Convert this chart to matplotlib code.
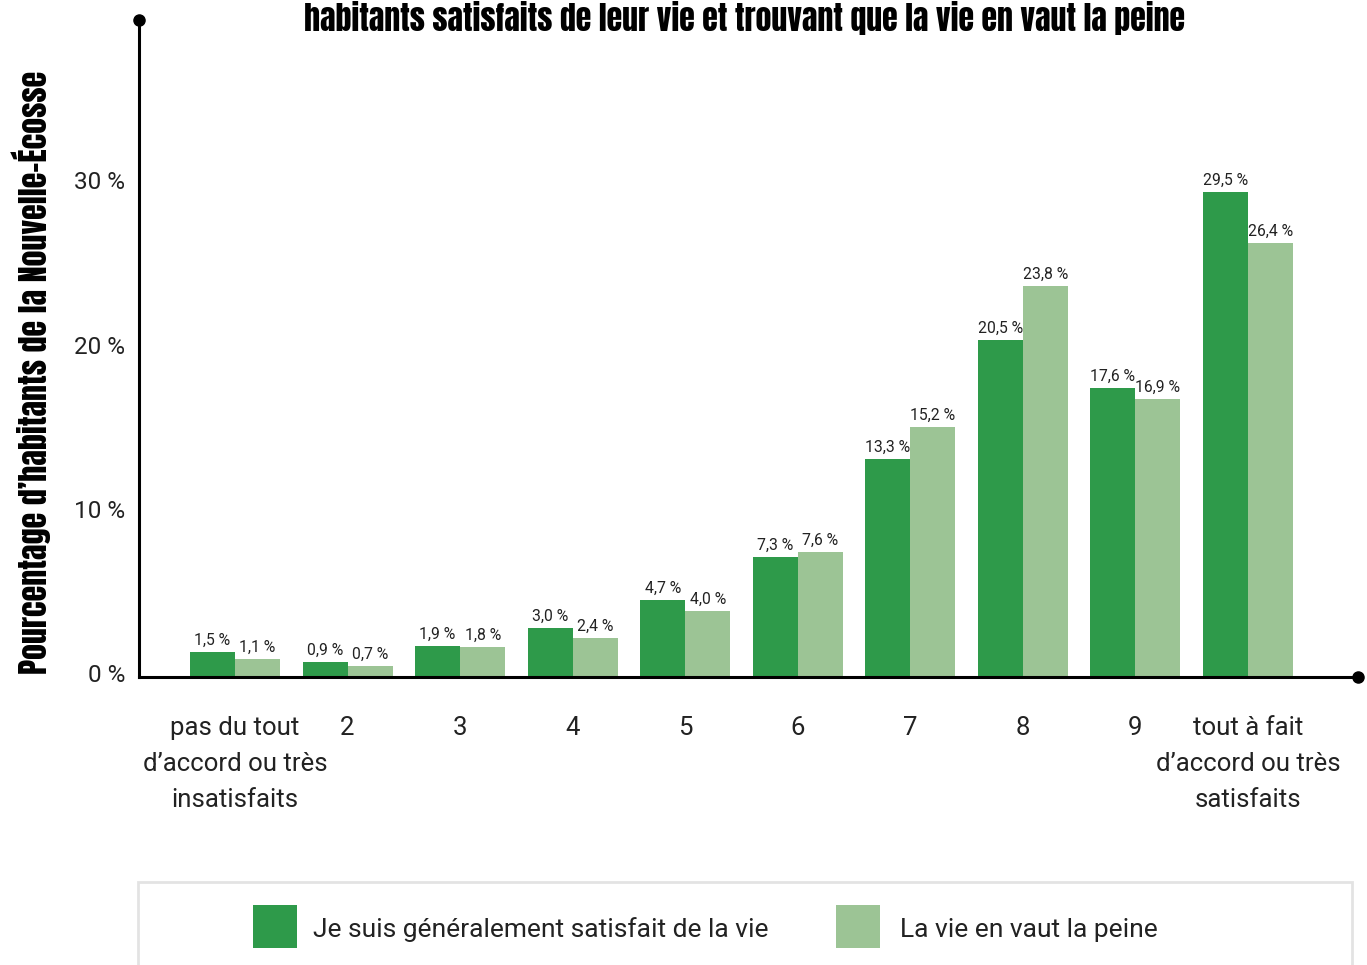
import matplotlib
matplotlib.use("Agg")
import matplotlib.pyplot as plt
from matplotlib.patches import Rectangle
from matplotlib.transforms import ScaledTranslation
import numpy as np

categories = ["pas du tout\nd\u2019accord ou très\ninsatisfaits", "2", "3", "4", "5", "6", "7", "8", "9",
              "tout à fait\nd\u2019accord ou très\nsatisfaits"]
satisfait = [1.5, 0.9, 1.9, 3.0, 4.7, 7.3, 13.3, 20.5, 17.6, 29.5]
vaut_peine = [1.1, 0.7, 1.8, 2.4, 4.0, 7.6, 15.2, 23.8, 16.9, 26.4]
series_names = ["Je suis généralement satisfait de la vie", "La vie en vaut la peine"]
yticks = [0, 10, 20, 30]
title = "habitants satisfaits de leur vie et trouvant que la vie en vaut la peine"
ylabel = "Pourcentage d\u2019habitants de la Nouvelle-Écosse"

dark = "#2e9a4a"
light = "#9cc495"

plt.rcParams['font.family'] = ['Roboto', 'DejaVu Sans']
cond = ['Anton', 'Oswald', 'DejaVu Sans']

W, H = 1367, 965
fig = plt.figure(figsize=(W / 100, H / 100), dpi=100)
ax = fig.add_axes([139 / W, 1 - 677 / H, (1358 - 139) / W, (677 - 20) / H])

x = np.arange(len(categories))
bw = 0.4
b1 = ax.bar(x - bw / 2, satisfait, bw, color=dark, label=series_names[0])
b2 = ax.bar(x + bw / 2, vaut_peine, bw, color=light, label=series_names[1])

fmt = lambda v: f"{v:.1f}".replace(".", ",") + " %"
ax.bar_label(b1, labels=[fmt(v) for v in satisfait], padding=3, fontsize=11.3, color="#222222")
ax.bar_label(b2, labels=[fmt(v) for v in vaut_peine], padding=3, fontsize=11.3, color="#222222")

x0, x1 = -0.853, 9.977
ax.set_xlim(x0, x1)
ax.set_ylim(0, 40)

for s in ["top", "right"]:
    ax.spines[s].set_visible(False)
for s in ["left", "bottom"]:
    ax.spines[s].set_linewidth(2.2)
    ax.spines[s].set_color("black")

ax.plot([x0], [40], "o", color="black", markersize=8, clip_on=False, zorder=5)
ax.plot([x1], [0], "o", color="black", markersize=8, clip_on=False, zorder=5)

ax.set_yticks(yticks)
ax.set_yticklabels([f"{t} %" for t in yticks], fontsize=17.5, color="#222222")
ax.tick_params(axis="y", length=0, pad=10)
up = ScaledTranslation(0, 4 / 100, fig.dpi_scale_trans)
for lab in ax.get_yticklabels():
    lab.set_transform(lab.get_transform() + up)
ax.set_xticks(x)
ax.set_xticklabels(categories, fontsize=18.5, color="#222222", linespacing=1.64, va="top")
ax.tick_params(axis="x", length=0, pad=28)

t_title = fig.text(745 / W, 1 - 18 / H, title, ha="center", va="center", fontsize=25,
                   family=cond, color="black")
t_ylab = fig.text(31 / W, 1 - 372 / H, ylabel, ha="center", va="center", rotation=90,
                  fontsize=24, family=cond, color="black")

# fit widths to the reference
fig.canvas.draw()
r = fig.canvas.get_renderer()
bb = t_title.get_window_extent(r)
t_title.set_fontsize(25 * 884 / bb.width)
bb = t_ylab.get_window_extent(r)
t_ylab.set_fontsize(24 * 605 / bb.height)

# legend box (cut at bottom)
fig.patches.append(Rectangle((138 / W, -0.05), (1352 - 138) / W, (1 - 882 / H) + 0.05,
                             transform=fig.transFigure, facecolor="white",
                             edgecolor="#e3e3e3", linewidth=2))
fig.patches.append(Rectangle((253 / W, 1 - 948 / H), 44 / W, 43 / H,
                             transform=fig.transFigure, facecolor=dark, edgecolor="none"))
fig.patches.append(Rectangle((836 / W, 1 - 948 / H), 44 / W, 43 / H,
                             transform=fig.transFigure, facecolor=light, edgecolor="none"))
fig.text(313 / W, 1 - 930 / H, series_names[0], ha="left", va="center", fontsize=19, color="#222222")
fig.text(900 / W, 1 - 930 / H, series_names[1], ha="left", va="center", fontsize=19, color="#222222")

fig.savefig("out.png", dpi=100)
